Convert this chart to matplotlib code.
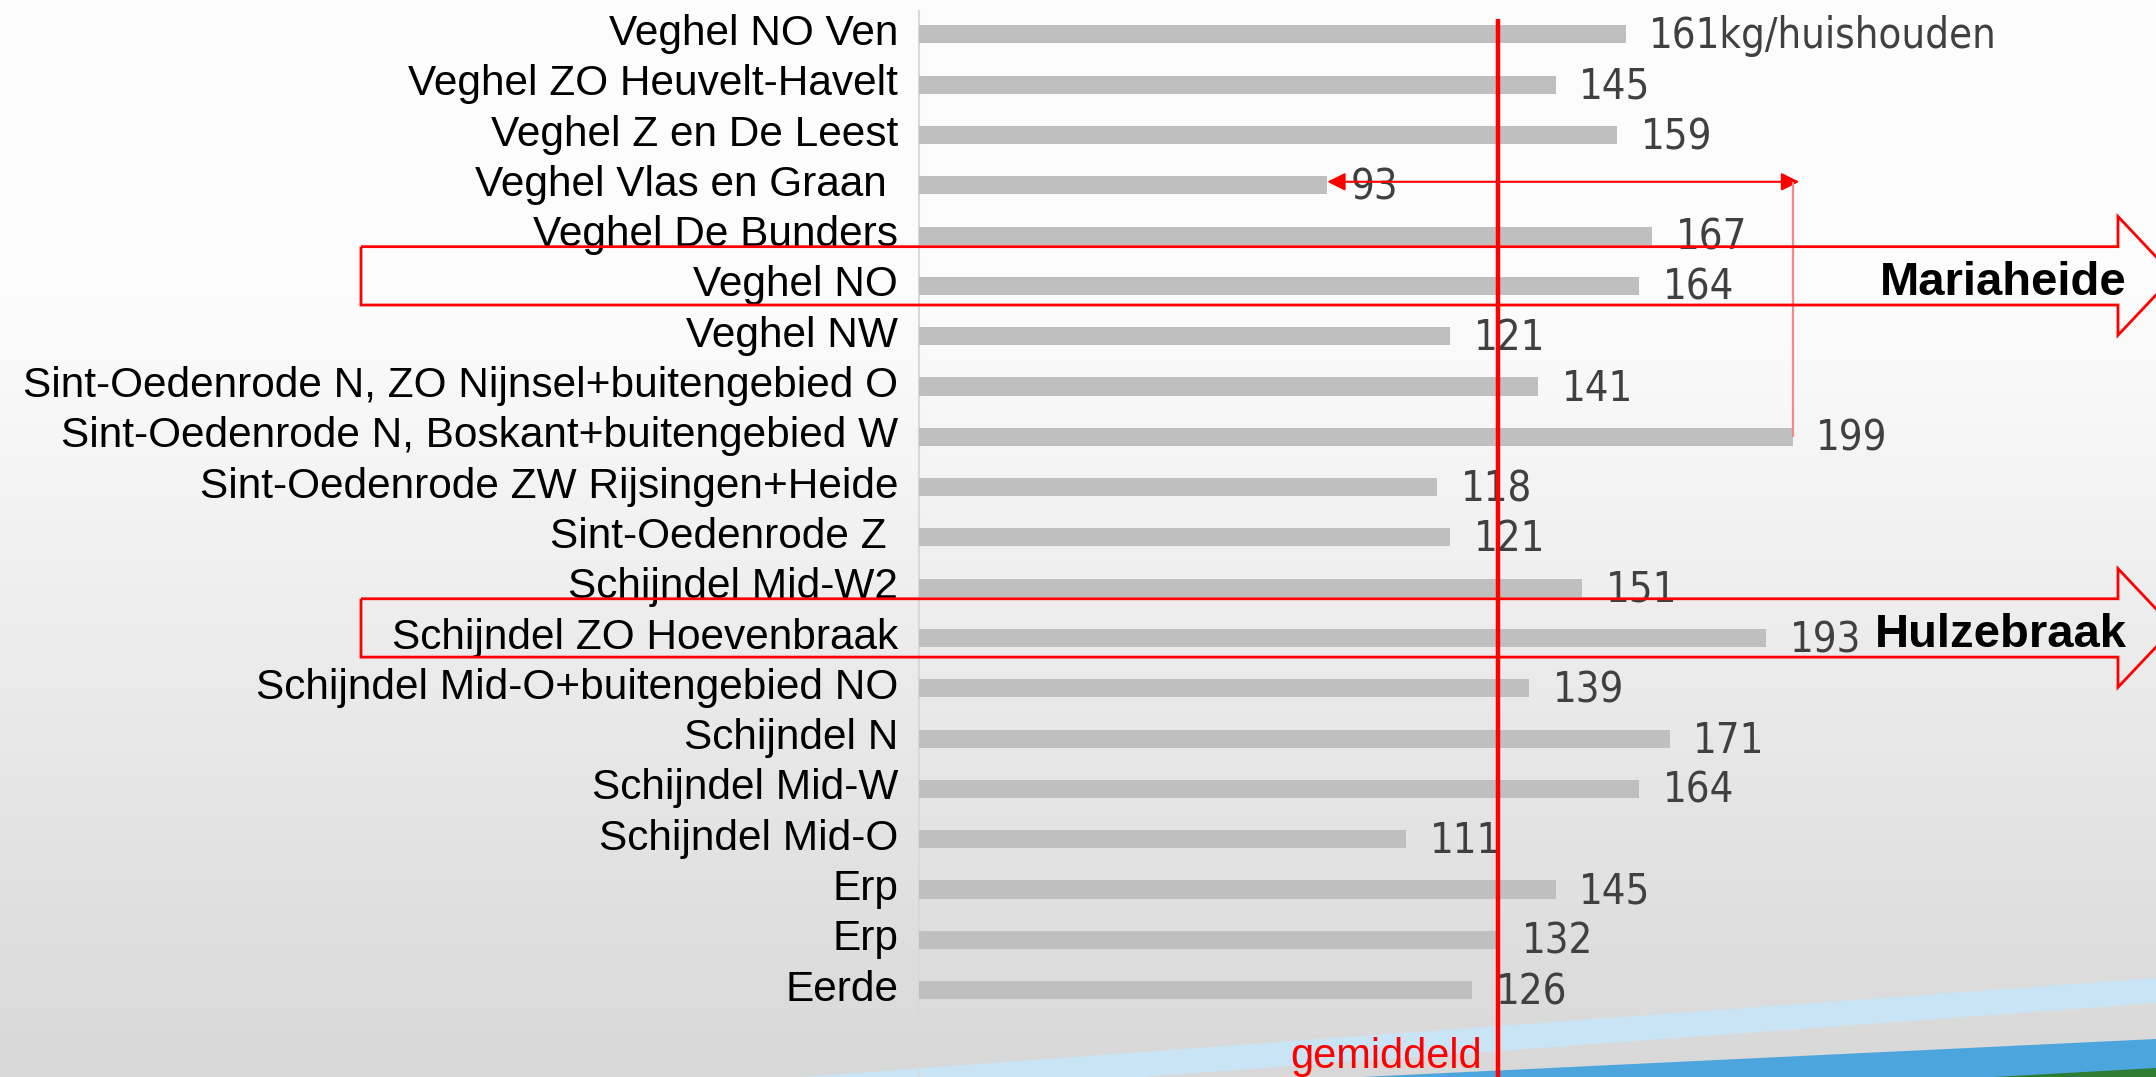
import matplotlib
matplotlib.use("Agg")
import matplotlib.pyplot as plt
import matplotlib.transforms as mtransforms
from matplotlib.patches import Polygon
import numpy as np

# ---- data ----
categories = [
    "Veghel NO Ven",
    "Veghel ZO Heuvelt-Havelt",
    "Veghel Z en De Leest",
    "Veghel Vlas en Graan ",
    "Veghel De Bunders",
    "Veghel NO",
    "Veghel NW",
    "Sint-Oedenrode N, ZO Nijnsel+buitengebied O",
    "Sint-Oedenrode N, Boskant+buitengebied W",
    "Sint-Oedenrode ZW Rijsingen+Heide",
    "Sint-Oedenrode Z ",
    "Schijndel Mid-W2",
    "Schijndel ZO Hoevenbraak",
    "Schijndel Mid-O+buitengebied NO",
    "Schijndel N",
    "Schijndel Mid-W",
    "Schijndel Mid-O",
    "Erp",
    "Erp",
    "Eerde",
]
values = [161, 145, 159, 93, 167, 164, 121, 141, 199, 118,
          121, 151, 193, 139, 171, 164, 111, 145, 132, 126]
unit = "kg/huishouden"
gemiddeld = 132
avg_label = "gemiddeld"
highlights = ["Mariaheide", "Hulzebraak"]
highlight_rows = [5, 12]

W, H = 2156, 1077
fig = plt.figure(figsize=(W / 100, H / 100), dpi=100)

# ---- background (gradient + decorative stripes) ----
bg = fig.add_axes([0, 0, 1, 1])
bg.set_xlim(0, W)
bg.set_ylim(H, 0)
bg.axis("off")
yy = np.arange(H)
g = np.where(yy < 300, 252, 252 - (yy - 300) / (H - 300) * 36) / 255.0
grad = np.dstack([g, g, g]).reshape(H, 1, 3)
bg.imshow(grad, extent=[0, W, H, 0], aspect="auto", zorder=0)
bg.add_patch(Polygon([(800, 1077), (2156, 978), (2156, 1003), (1142, 1077)],
                     closed=True, facecolor="#c9e4f5", edgecolor="none", zorder=1))
bg.add_patch(Polygon([(1362, 1077), (2156, 1039), (2156, 1077)],
                     closed=True, facecolor="#4ca6dd", edgecolor="none", zorder=2))
bg.add_patch(Polygon([(1994, 1077), (2156, 1068), (2156, 1077)],
                     closed=True, facecolor="#2e7d32", edgecolor="none", zorder=3))

# ---- chart axes ----
x0 = 919
px_per_unit = 4.39
row0, row_px = 34.4, 50.3
ax = fig.add_axes([x0 / W, 0, 1 - x0 / W, 1])
ax.patch.set_alpha(0)
ax.set_xlim(0, (W - x0) / px_per_unit)
ax.set_ylim((H - row0) / row_px, -row0 / row_px)
for s in ax.spines.values():
    s.set_visible(False)
ax.set_xticks([])

y = np.arange(len(categories))
ax.barh(y, values, height=0.36, color="#bfbfbf", zorder=2)

ax.set_yticks(y)
ax.set_yticklabels(categories, fontsize=30.5, family="Liberation Sans", color="black")
ax.tick_params(axis="y", length=0, pad=15)
shift = mtransforms.ScaledTranslation(0, 5 / 100, fig.dpi_scale_trans)
for lab in ax.get_yticklabels():
    lab.set_transform(lab.get_transform() + shift)

# axis line
ax.vlines(0, -0.49, (H - row0) / row_px, color="#d9d9d9", lw=1.5, zorder=1, clip_on=False)

# value labels
for i, v in enumerate(values):
    txt = f"{v}{unit}" if i == 0 else f"{v}"
    ax.annotate(txt, xy=(v, i), xytext=(17, -1.5), textcoords="offset points",
                ha="left", va="center", fontsize=30, color="#404040",
                family="DejaVu Sans", fontstretch="condensed", zorder=3)

# average line
ax.vlines(gemiddeld, -0.306, (H - row0) / row_px, color="#ff0000", lw=3.2,
          zorder=5, clip_on=False)
ax.annotate(avg_label, xy=(gemiddeld, 20.55), xytext=(-12, 0), textcoords="offset points",
            ha="right", va="baseline", fontsize=30, color="#ff0000",
            family="Liberation Sans", zorder=5)

# min-max double arrow
imin = int(np.argmin(values))
imax = int(np.argmax(values))
vmin, vmax = values[imin], values[imax]
ya = imin - 0.07
ax.annotate("", xy=(vmin, ya), xytext=(vmax + 1.5, ya),
            arrowprops=dict(arrowstyle="<|-|>", color="#ff0000", lw=1.5,
                            mutation_scale=27, shrinkA=0, shrinkB=0), zorder=6)
ax.vlines(vmax, ya, imax, color="#f28a8a", lw=1.6, zorder=6)

# highlight arrows
bt = mtransforms.blended_transform_factory(fig.transFigure, ax.transData)
xl, xh, xt = 361 / W, 2118 / W, 2174 / W
hh, HH = 0.58, 1.18
for name, r in zip(highlights, highlight_rows):
    c = r - 0.2
    pts = [(xl, c - hh), (xh, c - hh), (xh, c - HH), (xt, c),
           (xh, c + HH), (xh, c + hh), (xl, c + hh)]
    fig.add_artist(Polygon(pts, closed=True, facecolor="none", edgecolor="#ff0000",
                           lw=2.0, transform=bt, clip_on=False, zorder=10))
    fig.text(2127 / W, c + 0.38, name, transform=bt, ha="right", va="baseline",
             fontsize=34, fontweight="bold", family="Liberation Sans",
             color="black", zorder=11)

fig.savefig("out.png", dpi=100)
